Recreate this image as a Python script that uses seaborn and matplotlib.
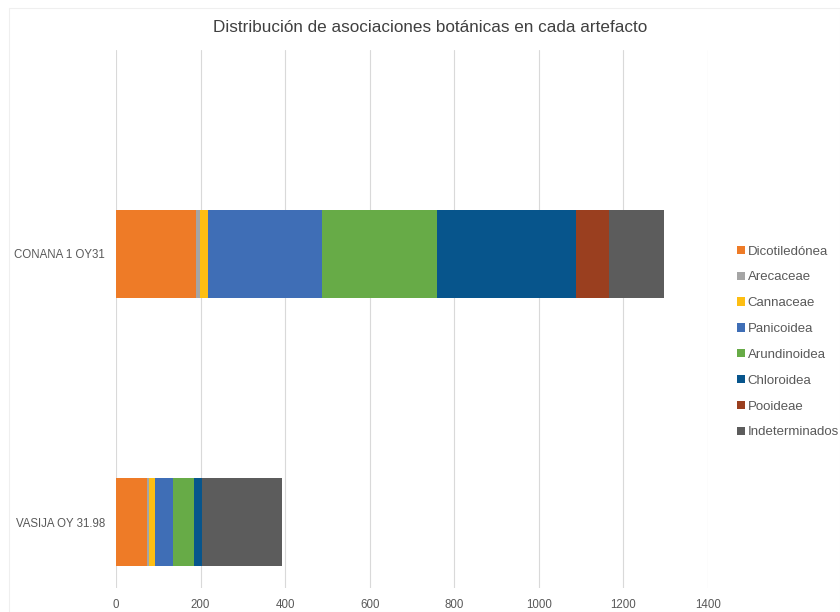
import matplotlib
matplotlib.use("Agg")
import matplotlib.pyplot as plt
import seaborn as sns
import numpy as np
import pandas as pd
from matplotlib.patches import Patch, Rectangle

categories = ["CONANA 1 OY31", "VASIJA OY 31.98"]
series = ["Dicotiledónea", "Arecaceae", "Cannaceae", "Panicoidea",
          "Arundinoidea", "Chloroidea", "Pooideae", "Indeterminados"]
dicotiledonea = [189, 74]
arecaceae = [10, 3]
cannaceae = [19, 16]
panicoidea = [270, 42]
arundinoidea = [270, 49]
chloroidea = [329, 19]
pooideae = [78, 0]
indeterminados = [130, 189]
x_ticks = [0, 200, 400, 600, 800, 1000, 1200, 1400]

colors = ["#EE7B27", "#A5A5A5", "#FDBE13", "#3F6EB6",
          "#67AB47", "#07558C", "#9A3F1F", "#5C5C5C"]

values = [dicotiledonea, arecaceae, cannaceae, panicoidea,
          arundinoidea, chloroidea, pooideae, indeterminados]

sns.set_theme(style="white")
plt.rcParams["font.family"] = ["Liberation Sans", "DejaVu Sans"]

fig = plt.figure(figsize=(8.4, 6.12), dpi=100)
ax = fig.add_axes([116 / 840, 1 - 588 / 612, 592 / 840, 538 / 612])

cum = np.cumsum(np.array(values), axis=0)
# draw from the longest cumulative bar down so each segment shows
for i in range(len(series) - 1, -1, -1):
    df = pd.DataFrame({"cat": categories, "val": cum[i]})
    sns.barplot(data=df, x="val", y="cat", order=categories, orient="h",
                color=colors[i], saturation=1, width=0.325,
                edgecolor="none", linewidth=0, ax=ax, zorder=3)

ax.set_xlim(0, 1400)
ax.set_ylim(1.246, -0.761)
ax.set_xticks(x_ticks)
ax.set_xticklabels([str(t) for t in x_ticks])
ax.set_xlabel("")
ax.set_ylabel("")
ax.grid(axis="x", color="#D9D9D9", linewidth=0.8, zorder=0)
ax.grid(axis="y", visible=False)
ax.set_axisbelow(True)
for s in ax.spines.values():
    s.set_visible(False)
ax.tick_params(axis="both", length=0, labelsize=8.3, colors="#595959")
ax.tick_params(axis="x", pad=8)
ax.tick_params(axis="y", pad=8)

fig.text(430 / 840, 1 - 28 / 612, "Distribución de asociaciones botánicas en cada artefacto",
         ha="center", va="center", fontsize=12.3, color="#404040")

handles = [Patch(facecolor=c, edgecolor="none", label=s) for c, s in zip(colors, series)]
leg = fig.legend(handles=handles, loc="center left",
                 bbox_to_anchor=(737 / 840, 1 - 342 / 612), frameon=False,
                 fontsize=9.5, handlelength=0.6, handleheight=0.6,
                 handletextpad=0.2, labelspacing=1.05, borderaxespad=0,
                 borderpad=0)
for t in leg.get_texts():
    t.set_color("#595959")

fig.patches.append(Rectangle((9 / 840, 0), 1 - 9 / 840, 1 - 8 / 612,
                             transform=fig.transFigure, fill=False,
                             edgecolor="#EFEFEF", linewidth=0.8))

fig.savefig("out.png", dpi=100)
